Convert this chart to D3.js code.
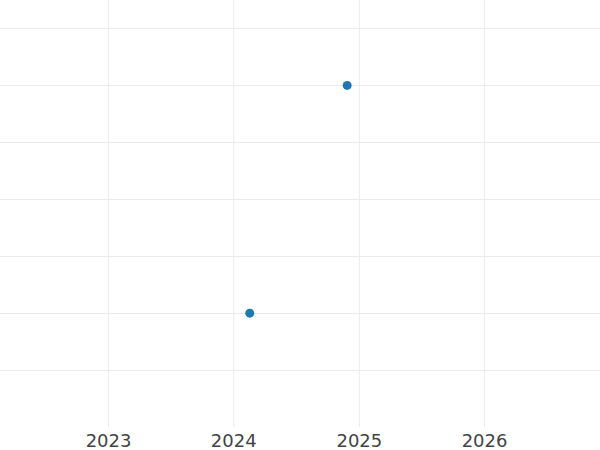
<!DOCTYPE html>
<html>
<head>
<meta charset="utf-8">
<script src="https://cdn.jsdelivr.net/npm/d3@7"></script>
<style>
  body { margin: 0; background: #fff; }
</style>
</head>
<body>
<svg id="chart" width="600" height="450"></svg>
<script>
// data
const dates = ['2024-02-18', '2024-11-28'];
const values = [1, 5];
const xDomain = ['2022-02-20', '2026-12-05'];
const yDomain = [-1, 6.5];
const yTicks = [0, 1, 2, 3, 4, 5, 6];

const parse = d3.timeParse('%Y-%m-%d');
const svg = d3.select('#chart');
const width = +svg.attr('width');
const height = +svg.attr('height');

const margin = { top: 0, right: 0, bottom: 23, left: 0 };
const innerWidth = width - margin.left - margin.right;
const innerHeight = height - margin.top - margin.bottom;

const x = d3.scaleTime()
    .domain(xDomain.map(parse))
    .range([0, innerWidth]);

const y = d3.scaleLinear()
    .domain(yDomain)
    .range([innerHeight, 0]);

const g = svg.append('g')
    .attr('transform', `translate(${margin.left},${margin.top})`);

// horizontal grid
g.append('g')
    .selectAll('line')
    .data(yTicks)
    .join('line')
    .attr('x1', 0)
    .attr('x2', innerWidth)
    .attr('y1', d => Math.round(y(d)) + 0.5)
    .attr('y2', d => Math.round(y(d)) + 0.5)
    .attr('stroke', '#ebebeb')
    .attr('stroke-width', 1);

// x axis with vertical grid
const xAxis = d3.axisBottom(x)
    .ticks(d3.timeYear.every(1))
    .tickFormat(d3.timeFormat('%Y'))
    .tickSize(-innerHeight)
    .tickPadding(7);

const xAxisG = g.append('g')
    .attr('transform', `translate(0,${innerHeight})`)
    .call(xAxis)
    .attr('font-family', 'DejaVu Sans')
    .attr('font-size', 18);

xAxisG.select('.domain').remove();
xAxisG.selectAll('.tick line')
    .attr('stroke', '#ebebeb');
xAxisG.selectAll('.tick text')
    .attr('fill', '#444');

// points
const data = dates.map((d, i) => ({ date: parse(d), value: values[i] }));

g.append('g')
    .selectAll('circle')
    .data(data)
    .join('circle')
    .attr('cx', d => x(d.date))
    .attr('cy', d => y(d.value))
    .attr('r', 4.5)
    .attr('fill', '#1f77b4');
</script>
</body>
</html>
